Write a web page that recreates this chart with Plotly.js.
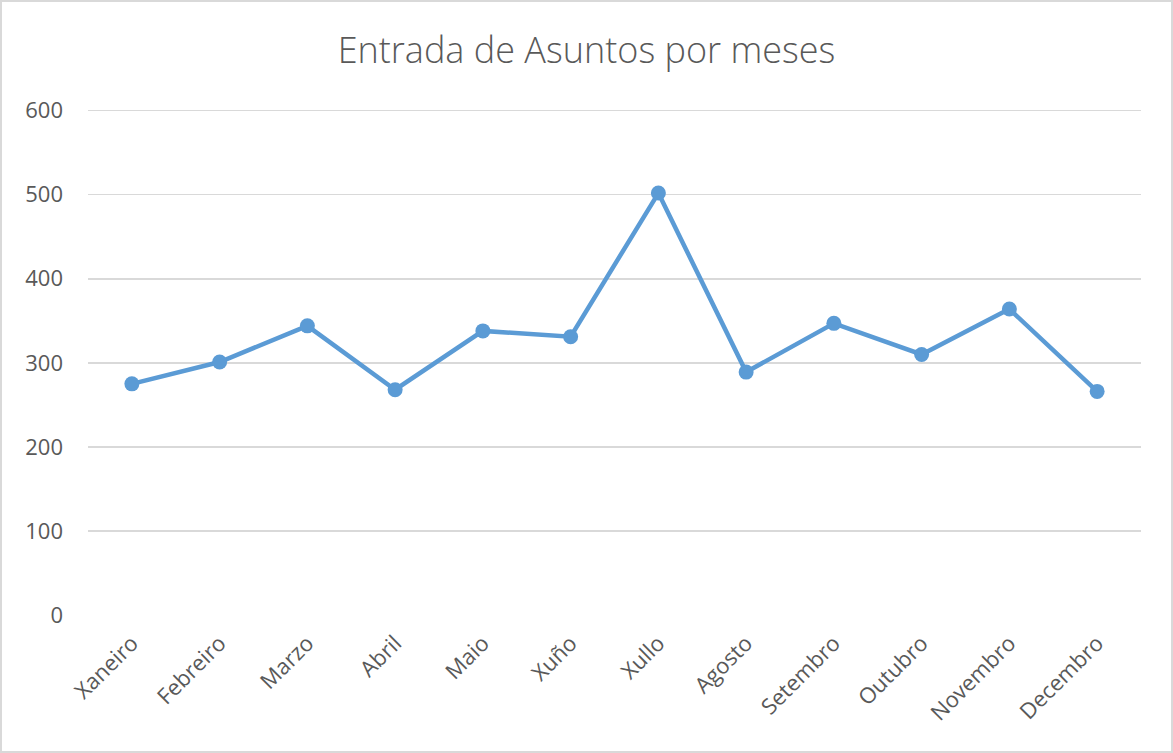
<!DOCTYPE html>
<html>
<head>
<meta charset="utf-8">
<script src="https://cdn.plot.ly/plotly-3.0.1.min.js"></script>
<style>
html,body{margin:0;padding:0;background:#fff;}
#chart{width:1173px;height:753px;box-sizing:border-box;border:2px solid #d9d9d9;}
</style>
</head>
<body>
<div id="chart"></div>
<script>
const months = ["Xaneiro","Febreiro","Marzo","Abril","Maio","Xuño","Xullo","Agosto","Setembro","Outubro","Novembro","Decembro"];
const entradas = [275, 301, 344, 268, 338, 331, 502, 289, 347, 310, 364, 266];
const yTicks = [0, 100, 200, 300, 400, 500, 600];

const trace = {
  x: months,
  y: entradas,
  type: 'scatter',
  mode: 'lines+markers',
  line: {color: '#5B9BD5', width: 4.5},
  marker: {color: '#5B9BD5', size: 15},
  hoverinfo: 'x+y'
};

const layout = {
  width: 1169,
  height: 749,
  margin: {l: 86, r: 30, t: 107, b: 136},
  paper_bgcolor: '#ffffff',
  plot_bgcolor: '#ffffff',
  font: {family: '"Open Sans", sans-serif', color: '#595959', size: 22},
  title: {text: 'Entrada de Asuntos por meses', x: 0.5, xanchor: 'center', y: 0.935, yanchor: 'middle',
          font: {size: 36, color: '#595959', family: '"Open Sans", sans-serif', weight: 300}},
  showlegend: false,
  xaxis: {
    type: 'category',
    range: [-0.5, 11.5],
    tickangle: -45,
    showgrid: false,
    zeroline: false,
    showline: false,
    ticks: '',
    ticklabelstandoff: 10,
    tickfont: {size: 22, color: '#595959'},
    fixedrange: true
  },
  yaxis: {
    range: [0, 602],
    tickmode: 'array',
    tickvals: yTicks,
    ticktext: yTicks.map(String),
    showgrid: true,
    gridcolor: '#d9d9d9',
    gridwidth: 1.5,
    zeroline: false,
    showline: false,
    ticks: '',
    ticklabelstandoff: 24,
    tickfont: {size: 22, color: '#595959'},
    fixedrange: true
  }
};

Plotly.newPlot('chart', [trace], layout, {displayModeBar: false, staticPlot: true});
</script>
</body>
</html>
